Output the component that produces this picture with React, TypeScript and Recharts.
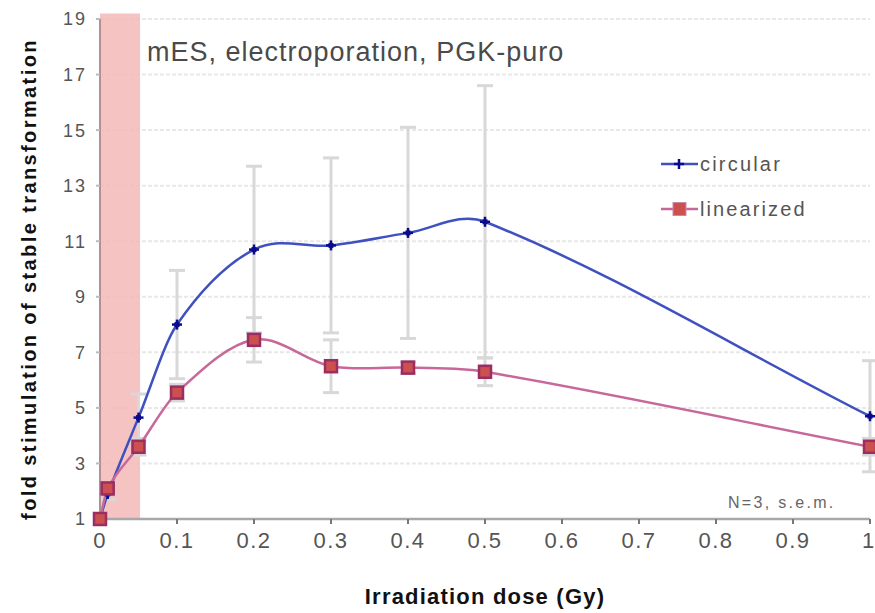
import React from "react";
import {
  LineChart,
  Line,
  XAxis,
  YAxis,
  CartesianGrid,
  ErrorBar,
  ReferenceArea,
} from "recharts";

const doses = [0, 0.01, 0.05, 0.1, 0.2, 0.3, 0.4, 0.5, 1];
const circular = [1, 1.9, 4.65, 8.0, 10.7, 10.85, 11.3, 11.7, 4.7];
const circularErr = [0, 0.2, 0.85, 1.95, 3.0, 3.15, 3.8, 4.9, 2.0];
const linearized = [1, 2.1, 3.6, 5.55, 7.45, 6.5, 6.45, 6.3, 3.6];
const linearizedErr = [0, 0.2, 0.3, 0.3, 0.8, 0.95, 0.2, 0.5, 0.3];
const xTicks = [0, 0.1, 0.2, 0.3, 0.4, 0.5, 0.6, 0.7, 0.8, 0.9, 1];
const yTicks = [1, 3, 5, 7, 9, 11, 13, 15, 17, 19];

const data = doses.map((d, i) => ({
  dose: d,
  circular: circular[i],
  circularErr: circularErr[i],
  linearized: linearized[i],
  linearizedErr: linearizedErr[i],
}));

const FONT = "Liberation Sans, Arial, sans-serif";
const BLUE_LINE = "#3f51c0";
const BLUE_MARK = "#0a0a8a";
const PINK_LINE = "#c8689a";
const PINK_EDGE = "#9a2d62";
const PINK_FILL = "#cc5050";

// Smoothed line through the points (cubic Hermite with finite-difference tangents)
const smoothCurve: any = (context: any) => {
  let pts: number[][] = [];
  return {
    areaStart() {},
    areaEnd() {},
    lineStart() {
      pts = [];
    },
    point(x: number, y: number) {
      pts.push([+x, +y]);
    },
    lineEnd() {
      const n = pts.length;
      if (!n) return;
      const slope = (i: number) => {
        const a = pts[Math.max(0, i - 1)];
        const b = pts[Math.min(n - 1, i + 1)];
        const dx = b[0] - a[0];
        return dx === 0 ? 0 : (b[1] - a[1]) / dx;
      };
      context.moveTo(pts[0][0], pts[0][1]);
      for (let i = 0; i < n - 1; i++) {
        const p1 = pts[i];
        const p2 = pts[i + 1];
        const h = (p2[0] - p1[0]) / 3;
        const m1 = slope(i);
        const m2 = slope(i + 1);
        context.bezierCurveTo(p1[0] + h, p1[1] + m1 * h, p2[0] - h, p2[1] - m2 * h, p2[0], p2[1]);
      }
    },
  };
};

const StarDot = (props: any) => {
  const { cx, cy, index } = props;
  if (cx == null || cy == null) return <g key={index} />;
  const r = 5;
  return (
    <g key={index}>
      <line x1={cx - r} y1={cy} x2={cx + r} y2={cy} stroke={BLUE_MARK} strokeWidth={2.5} />
      <line x1={cx} y1={cy - r} x2={cx} y2={cy + r} stroke={BLUE_MARK} strokeWidth={2.5} />
      <rect x={cx - 2.5} y={cy - 2.5} width={5} height={5} fill={BLUE_MARK} />
    </g>
  );
};

const SquareDot = (props: any) => {
  const { cx, cy, index } = props;
  if (cx == null || cy == null) return <g key={index} />;
  const s = 12;
  return (
    <rect
      key={index}
      x={cx - s / 2}
      y={cy - s / 2}
      width={s}
      height={s}
      fill={PINK_FILL}
      stroke={PINK_EDGE}
      strokeWidth={2.5}
    />
  );
};

const fmt = (v: number) => (v === 0 ? "0" : v === 1 ? "1" : String(v));

const YLabel = (props: any) => {
  const vb = props.viewBox || { x: 22, y: 19, width: 78, height: 501 };
  const x = vb.x + 7;
  const y = vb.y + vb.height / 2 + 10;
  return (
    <text
      x={0}
      y={0}
      transform={`translate(${x},${y}) rotate(-90)`}
      textAnchor="middle"
      dominantBaseline="central"
      fill="#111"
      fontSize={20}
      fontWeight="bold"
      fontFamily={FONT}
      letterSpacing={2.4}
    >
      fold stimulation of stable transformation
    </text>
  );
};

export default function App() {
  return (
    <div style={{ position: "absolute", left: 0, top: 0, width: 875, height: 613, background: "#fff" }}>
      <LineChart
        width={875}
        height={613}
        data={data}
        margin={{ top: 19, right: 5, bottom: 0, left: 22 }}
      >
        <CartesianGrid
          horizontal={true}
          vertical={false}
          stroke="#e8e8e8"
          strokeDasharray="4 2"
          strokeWidth={2}
        />
        <ReferenceArea
          x1={0}
          x2={0.052}
          y1={1}
          y2={19.2}
          fill="#f5b8b8"
          fillOpacity={0.85}
          stroke="none"
          ifOverflow="visible"
        />
        <XAxis
          dataKey="dose"
          type="number"
          domain={[0, 1]}
          ticks={xTicks}
          tickFormatter={fmt}
          height={94}
          stroke="#a8a8a8"
          strokeWidth={2.5}
          tickSize={5}
          tickMargin={8}
          tick={{ fill: "#555", fontSize: 22, fontFamily: FONT, letterSpacing: 1.5 }}
          tickLine={{ stroke: "#777", strokeWidth: 2 }}
          label={{
            value: "Irradiation dose (Gy)",
            position: "insideBottom",
            offset: 9,
            style: {
              fill: "#111",
              fontSize: 22,
              fontWeight: "bold",
              fontFamily: FONT,
              letterSpacing: 1.2,
            },
          }}
        />
        <YAxis
          type="number"
          domain={[1, 19]}
          ticks={yTicks}
          width={78}
          stroke="#b09090"
          strokeWidth={2}
          tickSize={4}
          tickMargin={9}
          interval={0}
          tick={{ fill: "#555", fontSize: 18, fontFamily: FONT, letterSpacing: 2 }}
          tickLine={{ stroke: "#bbb", strokeWidth: 2 }}
          label={<YLabel />}
        />
        {/* error bars drawn first so they sit behind the lines */}
        <Line
          dataKey="circular"
          stroke="none"
          dot={false}
          activeDot={false}
          isAnimationActive={false}
          legendType="none"
        >
          <ErrorBar dataKey="circularErr" width={8} stroke="#d8d8d8" strokeWidth={3} direction="y" />
        </Line>
        <Line
          dataKey="linearized"
          stroke="none"
          dot={false}
          activeDot={false}
          isAnimationActive={false}
          legendType="none"
        >
          <ErrorBar dataKey="linearizedErr" width={8} stroke="#d8d8d8" strokeWidth={3} direction="y" />
        </Line>
        <Line
          type={smoothCurve}
          dataKey="circular"
          stroke={BLUE_LINE}
          strokeWidth={2.5}
          dot={StarDot}
          activeDot={false}
          isAnimationActive={false}
        />
        <Line
          type={smoothCurve}
          dataKey="linearized"
          stroke={PINK_LINE}
          strokeWidth={2.5}
          dot={SquareDot}
          activeDot={false}
          isAnimationActive={false}
        />
      </LineChart>
      <div
        style={{
          position: "absolute",
          left: 147,
          top: 37,
          fontFamily: FONT,
          fontSize: 27,
          letterSpacing: 1,
          color: "#4a4a4a",
          whiteSpace: "nowrap",
          lineHeight: "31px",
        }}
      >
        mES, electroporation, PGK-puro
      </div>
      <div
        style={{
          position: "absolute",
          left: 728,
          top: 494,
          fontFamily: FONT,
          fontSize: 16,
          letterSpacing: 2.3,
          color: "#666",
          whiteSpace: "nowrap",
          lineHeight: "18px",
        }}
      >
        N=3, s.e.m.
      </div>
      <div
        style={{
          position: "absolute",
          left: 660,
          top: 152,
          fontFamily: FONT,
          fontSize: 20,
          color: "#555",
          lineHeight: "24px",
        }}
      >
        <div style={{ display: "flex", alignItems: "center", height: 24, marginBottom: 21 }}>
          <svg width={40} height={20} style={{ display: "block" }}>
            <line x1={1} y1={10} x2={38} y2={10} stroke={BLUE_LINE} strokeWidth={2.5} />
            <line x1={14} y1={10} x2={24} y2={10} stroke={BLUE_MARK} strokeWidth={2.5} />
            <line x1={19} y1={5} x2={19} y2={15} stroke={BLUE_MARK} strokeWidth={2.5} />
          </svg>
          <span style={{ letterSpacing: 2.2 }}>circular</span>
        </div>
        <div style={{ display: "flex", alignItems: "center", height: 24 }}>
          <svg width={40} height={20} style={{ display: "block" }}>
            <line x1={1} y1={10} x2={38} y2={10} stroke={PINK_LINE} strokeWidth={2.5} />
            <rect x={13} y={3.5} width={13} height={13} fill={PINK_FILL} stroke="#c98aa8" strokeWidth={1} />
          </svg>
          <span style={{ letterSpacing: 2.1 }}>linearized</span>
        </div>
      </div>
    </div>
  );
}
